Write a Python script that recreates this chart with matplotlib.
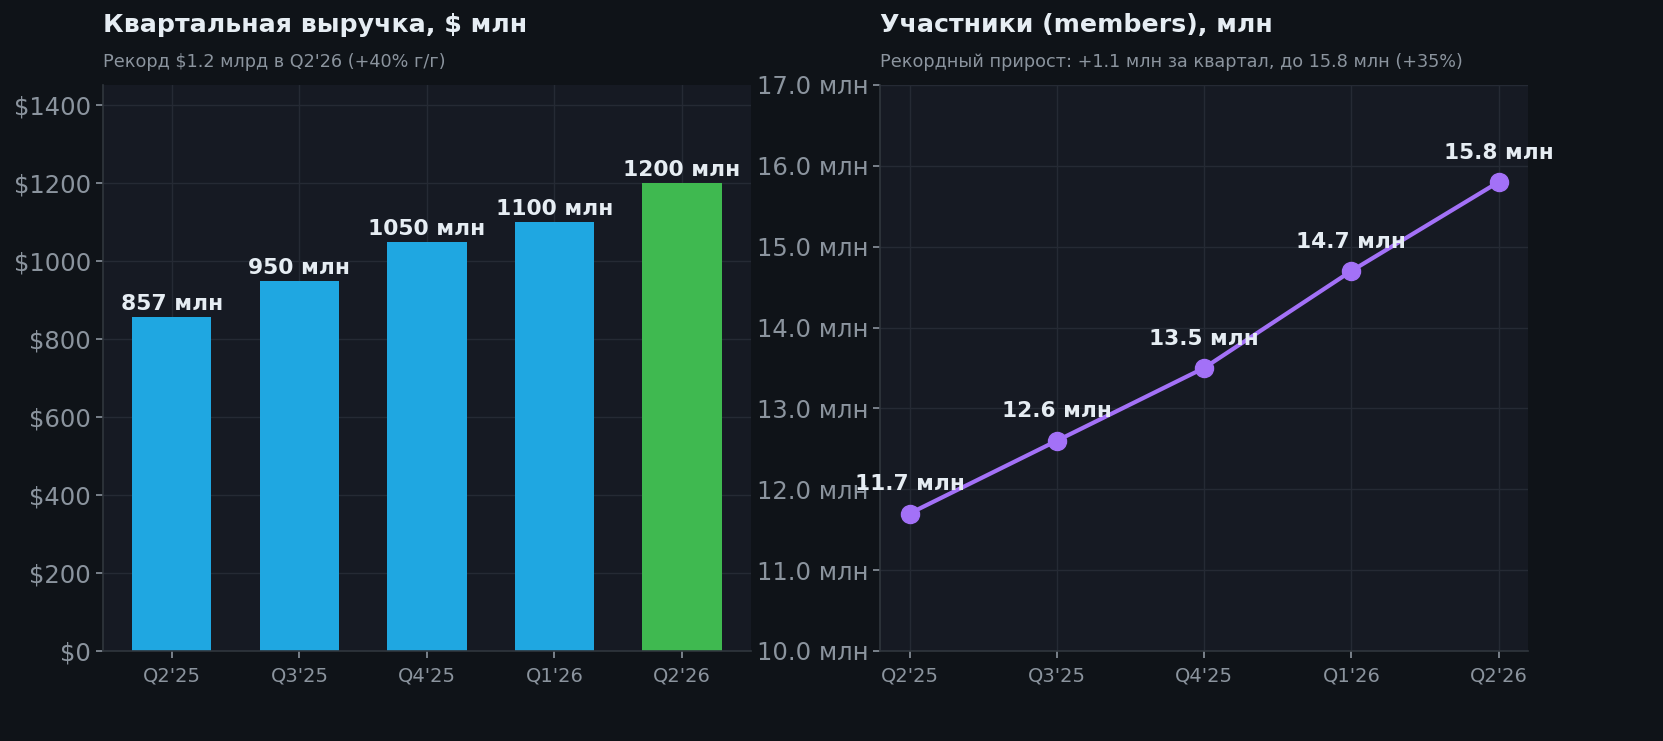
import numpy as np
import matplotlib.pyplot as plt

# данные
quarters = ["Q2'25", "Q3'25", "Q4'25", "Q1'26", "Q2'26"]
revenue = [857, 950, 1050, 1100, 1200]          # $ млн
members = [11.7, 12.6, 13.5, 14.7, 15.8]        # млн
revenue_ticks = [0, 200, 400, 600, 800, 1000, 1200, 1400]
members_ticks = [10, 11, 12, 13, 14, 15, 16, 17]

# цвета
fig_bg = '#0f1318'
ax_bg = '#161a23'
grid_c = '#252a34'
spine_c = '#30363d'
tick_c = '#8b949e'
text_c = '#e6edf3'
blue = '#1fa7e1'
green = '#3fb950'
purple = '#a371f7'

fig = plt.figure(figsize=(16.63, 7.41), dpi=100, facecolor=fig_bg)
ax1 = fig.add_axes([0.0619, 0.1215, 0.3897, 0.7638])
ax2 = fig.add_axes([0.5292, 0.1215, 0.3897, 0.7638])


def style_axes(ax):
    ax.set_facecolor(ax_bg)
    for side in ['top', 'right']:
        ax.spines[side].set_visible(False)
    for side in ['left', 'bottom']:
        ax.spines[side].set_color(spine_c)
        ax.spines[side].set_linewidth(1.2)
    ax.grid(True, color=grid_c, linewidth=1)
    ax.set_axisbelow(True)
    ax.tick_params(axis='y', colors=tick_c, labelsize=17.5, length=5, width=1.2)
    ax.tick_params(axis='x', colors=tick_c, labelsize=14, length=5, width=1.2, pad=6)


# левый график: выручка
x = np.arange(len(quarters))
colors = [blue] * (len(quarters) - 1) + [green]
bars = ax1.bar(x, revenue, width=0.62, color=colors, zorder=2)
style_axes(ax1)
ax1.set_xticks(x)
ax1.set_xticklabels(quarters)
ax1.set_yticks(revenue_ticks)
ax1.set_yticklabels([f'${v}' for v in revenue_ticks])
ax1.set_ylim(0, 1452)
for b, v in zip(bars, revenue):
    ax1.annotate(f'{v} млн', (b.get_x() + b.get_width() / 2, v), xytext=(0, 2),
                 textcoords='offset points', ha='center', va='bottom',
                 fontsize=15.7, fontweight='bold', color=text_c)

# правый график: участники
ax2.plot(x, members, color=purple, linewidth=3, marker='o', markersize=13, zorder=3)
style_axes(ax2)
ax2.set_xticks(x)
ax2.set_xticklabels(quarters)
ax2.set_yticks(members_ticks)
ax2.set_yticklabels([f'{v:.1f} млн' for v in members_ticks])
ax2.set_ylim(10, 17)
ax2.set_xlim(-0.2, 4.2)
for xi, v in zip(x, members):
    ax2.annotate(f'{v} млн', (xi, v), xytext=(0, 14), textcoords='offset points',
                 ha='center', va='bottom', fontsize=15.6, fontweight='bold',
                 color=text_c, zorder=5, annotation_clip=False)

# заголовки
fig.text(0.0619, 0.966, 'Квартальная выручка, $ млн', fontsize=18.2, fontweight='bold',
         color=text_c, ha='left', va='center')
fig.text(0.0619, 0.916, "Рекорд $1.2 млрд в Q2'26 (+40% г/г)", fontsize=12.7,
         color=tick_c, ha='left', va='center')
fig.text(0.5292, 0.966, 'Участники (members), млн', fontsize=18.2, fontweight='bold',
         color=text_c, ha='left', va='center')
fig.text(0.5292, 0.916, 'Рекордный прирост: +1.1 млн за квартал, до 15.8 млн (+35%)',
         fontsize=12.7, color=tick_c, ha='left', va='center')

fig.savefig('out.png', dpi=100, facecolor=fig_bg)
